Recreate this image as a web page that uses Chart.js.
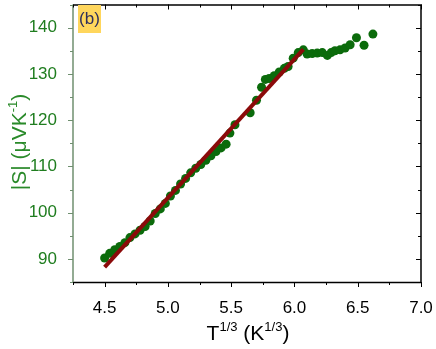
<!DOCTYPE html>
<html>
<head>
<meta charset="utf-8">
<script src="https://cdn.jsdelivr.net/npm/chart.js@4/dist/chart.umd.min.js"></script>
<style>
  html, body { margin: 0; padding: 0; background: #fff; }
  #wrap { width: 436px; height: 349px; }
</style>
</head>
<body>
<div id="wrap"><canvas id="myChart"></canvas></div>
<script>
// measured points, T^(1/3) vs |S|
var sX = [4.50, 4.54, 4.58, 4.62, 4.66, 4.70, 4.74, 4.78, 4.82, 4.86,
          4.90, 4.94, 4.98, 5.02, 5.06, 5.10, 5.14, 5.18, 5.22, 5.26,
          5.30, 5.34, 5.38, 5.42, 5.46, 5.49, 5.53, 5.65, 5.70, 5.74,
          5.77, 5.80, 5.84, 5.88, 5.92, 5.95, 5.99, 6.03, 6.07, 6.10,
          6.14, 6.18, 6.22, 6.26, 6.29, 6.32, 6.36, 6.40, 6.44, 6.49,
          6.55, 6.62];
var sY = [90.2, 91.2, 92.0, 92.7, 93.5, 94.6, 95.4, 96.2, 97.0, 98.2,
          99.8, 100.8, 102.0, 103.6, 104.8, 106.2, 107.4, 108.6, 109.6, 110.4,
          111.3, 112.3, 113.2, 114.0, 114.8, 117.2, 119.0, 121.6, 124.3, 127.1,
          128.8, 129.0, 129.6, 130.4, 131.2, 131.6, 133.4, 134.6, 135.2, 134.3,
          134.4, 134.5, 134.6, 134.0, 134.6, 135.0, 135.2, 135.6, 136.3, 137.8,
          136.2, 138.6];

// linear fit
var fitX = [4.50, 6.07];
var fitY = [88.2, 135.3];

var xTicks = [4.5, 5.0, 5.5, 6.0, 6.5, 7.0];
var yTicks = [90, 100, 110, 120, 130, 140];

var greenTxt = '#1f7d1f';

function pts(xs, ys) {
    return xs.map(function (x, i) { return { x: x, y: ys[i] }; });
}

var framePlugin = {
    id: 'frame',
    afterDraw: function (chart) {
        var c = chart.ctx, a = chart.chartArea;
        var sx = chart.scales.x, sy = chart.scales.y;
        c.save();
        // frame
        c.lineWidth = 1.5;
        c.strokeStyle = '#000';
        c.beginPath();
        c.moveTo(a.left, a.bottom + 0.5); c.lineTo(a.right, a.bottom + 0.5);
        c.lineTo(a.right, a.top + 0.5); c.lineTo(a.left, a.top + 0.5);
        c.stroke();
        c.strokeStyle = '#6f8f6f';
        c.beginPath();
        c.moveTo(a.left, a.top); c.lineTo(a.left, a.bottom + 1);
        c.stroke();

        // x ticks (every 0.25), bottom outward, top inward
        c.lineWidth = 1;
        c.strokeStyle = '#000';
        for (var v = 4.25; v <= 7.001; v += 0.25) {
            var px = Math.round(sx.getPixelForValue(v)) + 0.5;
            var len = (Math.abs(v * 2 - Math.round(v * 2)) < 0.01) ? 5 : 3;
            c.beginPath();
            c.moveTo(px, a.bottom); c.lineTo(px, a.bottom + len);
            c.moveTo(px, a.top); c.lineTo(px, a.top + len);
            c.stroke();
        }
        // y ticks (every 5)
        for (var w = 85; w <= 145; w += 5) {
            var py = Math.round(sy.getPixelForValue(w)) + 0.5;
            var l2 = (w % 10 === 0) ? 5 : 3;
            c.strokeStyle = '#000';
            c.beginPath();
            c.moveTo(a.right, py); c.lineTo(a.right - l2, py);
            c.stroke();
            c.strokeStyle = '#6f8f6f';
            c.beginPath();
            c.moveTo(a.left, py); c.lineTo(a.left - l2, py);
            c.stroke();
        }

        // x title with superscripts
        c.fillStyle = '#000';
        c.textBaseline = 'alphabetic';
        c.textAlign = 'left';
        var big = '21px "Liberation Sans", Arial, sans-serif';
        var sml = '13px "Liberation Sans", Arial, sans-serif';
        var parts = [['T', big, 0], ['1/3', sml, -9], [' (K', big, 0], ['1/3', sml, -9], [')', big, 0]];
        c.font = big;
        var total = 0;
        parts.forEach(function (p) { c.font = p[1]; total += c.measureText(p[0]).width; });
        var x0 = 248 - total / 2, base = 340;
        parts.forEach(function (p) {
            c.font = p[1];
            c.fillText(p[0], x0, base + p[2]);
            x0 += c.measureText(p[0]).width;
        });

        // y title, rotated
        c.save();
        c.translate(26, 142);
        c.rotate(-Math.PI / 2);
        c.fillStyle = '#2a8a2a';
        var yparts = [['|S| (\u03bcVK', big, 0], ['-1', sml, -9], [')', big, 0]];
        total = 0;
        yparts.forEach(function (p) { c.font = p[1]; total += c.measureText(p[0]).width; });
        x0 = -total / 2;
        yparts.forEach(function (p) {
            c.font = p[1];
            c.fillText(p[0], x0, p[2]);
            x0 += c.measureText(p[0]).width;
        });
        c.restore();

        // panel label
        c.fillStyle = '#ffd65c';
        c.fillRect(78, 5, 23, 28);
        c.fillStyle = '#2e2e5c';
        c.font = '17px "Liberation Sans", Arial, sans-serif';
        c.textAlign = 'center';
        c.textBaseline = 'middle';
        c.fillText('(b)', 89.5, 19);
        c.restore();
    }
};

var ctx = document.getElementById('myChart').getContext('2d');
var chart = new Chart(ctx, {
    type: 'scatter',
    data: {
        datasets: [
            {
                label: 'fit',
                type: 'line',
                data: pts(fitX, fitY),
                borderColor: '#8b0a0a',
                borderWidth: 4,
                pointRadius: 0,
                fill: false,
                order: 0
            },
            {
                label: '|S|',
                data: pts(sX, sY),
                backgroundColor: '#0b6b0b',
                borderWidth: 0,
                pointRadius: 4.5,
                order: 1
            }
        ]
    },
    options: {
        responsive: true,
        maintainAspectRatio: false,
        animation: false,
        layout: { padding: { top: 0, right: 15, left: 0, bottom: 0 } },
        plugins: { legend: { display: false }, tooltip: { enabled: false } },
        scales: {
            x: {
                type: 'linear',
                min: 4.25,
                max: 7.0,
                grid: { display: false },
                border: { display: false },
                afterBuildTicks: function (s) { s.ticks = xTicks.map(function (v) { return { value: v }; }); },
                afterFit: function (s) { s.height = 67; s.paddingLeft = 0; s.paddingRight = 0; },
                ticks: {
                    color: '#000',
                    padding: 8,
                    maxRotation: 0,
                    font: { size: 17, family: '"Liberation Sans", Arial, sans-serif' },
                    callback: function (v) { return Number(v).toFixed(1); }
                }
            },
            y: {
                type: 'linear',
                min: 85,
                max: 145,
                grid: { display: false },
                border: { display: false },
                afterBuildTicks: function (s) { s.ticks = yTicks.map(function (v) { return { value: v }; }); },
                afterFit: function (s) { s.width = 73; s.paddingTop = 0; s.paddingBottom = 0; },
                ticks: {
                    color: greenTxt,
                    padding: 8,
                    font: { size: 17, family: '"Liberation Sans", Arial, sans-serif' }
                }
            }
        }
    },
    plugins: [framePlugin]
});
</script>
</body>
</html>
